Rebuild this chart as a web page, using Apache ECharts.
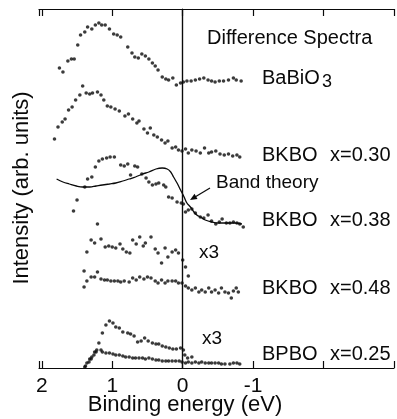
<!DOCTYPE html>
<html><head><meta charset="utf-8">
<script src="https://cdn.jsdelivr.net/npm/echarts@6/dist/echarts.min.js"></script>
<style>html,body{margin:0;padding:0;background:#fff}#c{width:397px;height:419px}</style>
</head><body><div id="c"></div>
<script>
// Binding energy (eV) and intensity (arb. units, offset curves)
const babioE = [1.75,1.70,1.63,1.58,1.54,1.49,1.45,1.39,1.35,1.29,1.24,1.19,1.15,1.10,1.04,0.98,0.93,0.88,0.78,0.72,0.68,0.63,0.58,0.53,0.48,0.43,0.39,0.35,0.29,0.24,0.20,0.14,0.09,0.03,-0.01,-0.06,-0.12,-0.18,-0.24,-0.30,-0.36,-0.41,-0.46,-0.52,-0.58,-0.65,-0.72,-0.76,-0.83];
const babioI = [300,296,307,309,309,323,333,336,341,339,343,345,343,343,339,334,333,331,321,315,311,310,314,312,309,305,302,298,291,289,288,290,283,285,286,287,287,288,289,290,288,287,286,287,287,288,290,288,287];

const bkbo30E = [1.82,1.77,1.71,1.67,1.62,1.57,1.52,1.46,1.42,1.37,1.32,1.28,1.21,1.16,1.12,1.07,1.02,0.96,0.90,0.82,0.77,0.71,0.65,0.62,0.55,0.50,0.46,0.41,0.36,0.30,0.25,0.21,0.15,0.10,0.06,0.01,-0.04,-0.08,-0.13,-0.19,-0.25,-0.31,-0.37,-0.41,-0.47,-0.53,-0.59,-0.65,-0.71,-0.77,-0.81];
const bkbo30I = [229,241,246,249,258,261,268,273,282,275,274,275,276,273,268,262,261,259,257,252,254,249,245,247,239,235,240,233,231,228,225,227,220,221,218,217,219,215,218,217,215,220,215,216,217,214,213,214,212,213,211];

const bkbo38E = [1.55,1.50,1.39,1.35,1.29,1.24,1.19,1.14,1.08,1.03,0.97,0.88,0.83,0.78,0.74,0.68,0.64,0.58,0.52,0.48,0.43,0.38,0.34,0.27,0.24,0.20,0.15,0.08,0.02,-0.01,-0.04,-0.08,-0.13,-0.18,-0.25,-0.30,-0.36,-0.41,-0.47,-0.52,-0.56,-0.62,-0.67,-0.72,-0.77,-0.81,-0.86];
const bkbo38I = [157,168,181,189,191,201,207,209,210,211,211,203,202,204,193,202,201,194,190,186,183,184,185,183,181,171,170,166,165,164,156,158,159,155,151,150,153,147,144,146,149,145,145,146,145,144,141];

const bandE = [1.79,1.70,1.61,1.51,1.42,1.32,1.23,1.14,1.04,0.95,0.85,0.76,0.67,0.57,0.48,0.38,0.29,0.22,0.17,0.13,0.08,0.03,-0.02,-0.06,-0.11,-0.16,-0.20,-0.25,-0.32,-0.41,-0.51,-0.60,-0.74,-0.84];
const bandI = [189,186,184,182,181,181,182,183,184,185,187,189,191,194,196,199,200,199,196,191,185,178,171,165,161,156,153,151,148,146,145,145,145,144];

const bkbo48x3E = [1.36,1.30,1.25,1.21,1.16,1.10,1.05,1.00,0.95,0.89,0.85,0.80,0.75,0.71,0.66,0.61,0.56,0.53,0.45,0.39,0.35,0.30,0.25,0.21,0.15,0.10,0.06,0.00,-0.04,-0.08];
const bkbo48x3I = [116,128,125,144,129,121,122,121,120,124,119,116,115,128,124,131,122,125,131,119,115,105,120,111,116,118,115,108,101,92];

const bkbo48E = [1.40,1.40,1.36,1.30,1.25,1.21,1.16,1.11,1.07,1.02,0.97,0.92,0.88,0.83,0.76,0.71,0.66,0.61,0.55,0.50,0.45,0.39,0.35,0.30,0.25,0.21,0.15,0.10,0.06,0.01,-0.04,-0.08,-0.13,-0.18,-0.23,-0.27,-0.32,-0.37,-0.41,-0.46,-0.51,-0.55,-0.60,-0.65,-0.69,-0.72,-0.76,-0.79];
const bkbo48I = [97,81,87,91,91,96,89,88,88,87,87,87,86,87,86,90,88,91,89,91,90,87,85,88,85,87,87,87,85,85,82,80,78,80,76,78,76,80,76,78,75,80,76,75,70,77,80,76];

const bpbox3E = [1.19,1.14,1.09,1.04,0.99,0.95,0.90,0.85,0.78,0.74,0.69,0.64,0.59,0.54,0.49,0.43,0.38,0.34,0.29,0.24,0.19,0.14,0.09,0.03,-0.01,-0.03,-0.07,-0.13];
const bpbox3I = [25,35,43,47,45,41,40,36,35,34,32,26,27,30,27,25,24,24,22,21,20,19,19,20,18,13,10,11];

const bpboE = [1.39,1.38,1.36,1.33,1.32,1.30,1.29,1.26,1.25,1.23,1.22,1.16,1.14,1.09,1.04,0.99,0.95,0.90,0.85,0.81,0.76,0.71,0.67,0.62,0.57,0.53,0.48,0.43,0.38,0.34,0.29,0.24,0.20,0.15,0.10,0.05,0.01,-0.04,-0.08,-0.13,-0.18,-0.23,-0.27,-0.32,-0.37,-0.41,-0.46,-0.51,-0.55,-0.60,-0.67,-0.72,-0.77,-0.81];
const bpboI = [1,2,5,6,9,9,11,13,16,16,18,18,16,15,15,14,13,13,12,11,11,10,10,10,10,9,10,9,8,8,7,7,7,7,7,7,6,5,6,5,6,5,6,5,5,5,5,5,4,4,4,5,5,4];

const xTickLabels = [2, 1, 0, -1];

const zip = (a, b) => a.map((v, i) => [v, b[i]]);
const FONT = "'Liberation Sans', Arial, sans-serif";
const INK = '#0a0a0a';

const chart = echarts.init(document.getElementById('c'), null, {renderer: 'canvas'});
const dots = (name, E, I) => ({
  name, type: 'scatter', data: zip(E, I), symbol: 'circle', symbolSize: 3.6,
  itemStyle: {color: INK}, silent: true
});

function txt(text, x, y, size, extra) {
  return Object.assign({
    type: 'text', x, y, silent: true,
    style: {text, font: size + 'px ' + FONT, fill: INK, align: 'left', verticalAlign: 'middle'}
  }, extra || {});
}

chart.setOption({
  animation: false,
  backgroundColor: '#fff',
  grid: {left: 39, right: 0, top: 9, bottom: 51, containLabel: false},
  xAxis: [{
    type: 'value', inverse: true, min: -3, max: 2.04, interval: 1, position: 'bottom',
    axisLine: {show: true, lineStyle: {color: INK, width: 1.2}},
    axisTick: {show: true, inside: true, length: 7, lineStyle: {color: INK, width: 1.2}},
    axisLabel: {
      show: true, margin: 8, fontSize: 21, color: INK, fontFamily: FONT,
      formatter: v => (xTickLabels.indexOf(v) >= 0 ? String(v) : '')
    },
    splitLine: {show: false}
  }, {
    type: 'value', inverse: true, min: -3, max: 2.04, interval: 1, position: 'top',
    axisLine: {show: true, lineStyle: {color: INK, width: 1.2}},
    axisTick: {show: true, inside: true, length: 7, lineStyle: {color: INK, width: 1.2}},
    axisLabel: {show: false}, splitLine: {show: false}
  }],
  yAxis: {
    type: 'value', min: 0, max: 359,
    axisLine: {show: true, lineStyle: {color: INK, width: 1.2}},
    axisTick: {show: false}, axisLabel: {show: false}, splitLine: {show: false}
  },
  series: [
    dots('BaBiO3', babioE, babioI),
    dots('BKBO x=0.30', bkbo30E, bkbo30I),
    dots('BKBO x=0.38', bkbo38E, bkbo38I),
    dots('BKBO x=0.48 x3', bkbo48x3E, bkbo48x3I),
    dots('BKBO x=0.48', bkbo48E, bkbo48I),
    dots('BPBO x=0.25 x3', bpbox3E, bpbox3I),
    dots('BPBO x=0.25', bpboE, bpboI),
    {
      name: 'Band theory', type: 'line', data: zip(bandE, bandI), smooth: 0.4,
      symbol: 'none', lineStyle: {color: INK, width: 1.3}, silent: true,
      markLine: {
        silent: true, symbol: 'none', label: {show: false},
        lineStyle: {color: INK, width: 1.2, type: 'solid'},
        data: [{xAxis: 0}]
      }
    }
  ],
  graphic: [
    txt('Difference Spectra', 207, 38, 20),
    txt('BaBiO', 262, 78, 20),
    txt('3', 322, 82, 18),
    txt('BKBO', 262, 155, 20), txt('x=0.30', 330, 155, 20),
    txt('Band theory', 216, 183, 19),
    txt('BKBO', 262, 220, 20), txt('x=0.38', 330, 220, 20),
    txt('x3', 199, 253, 19),
    txt('BKBO', 262, 288, 20), txt('x=0.48', 330, 288, 20),
    txt('x3', 202, 339, 19),
    txt('BPBO', 262, 354, 20), txt('x=0.25', 330, 354, 20),
    txt('Binding energy (eV)', 185, 405, 22, {style: {text: 'Binding energy (eV)', font: '22px ' + FONT, fill: INK, align: 'center', verticalAlign: 'middle'}}),
    txt('Intensity (arb. units)', 22, 188, 22, {rotation: Math.PI / 2, style: {text: 'Intensity (arb. units)', font: '22px ' + FONT, fill: INK, align: 'center', verticalAlign: 'middle'}}),
    {type: 'line', silent: true, shape: {x1: 210, y1: 188, x2: 195, y2: 197}, style: {stroke: INK, lineWidth: 1.2}},
    {type: 'polygon', silent: true, shape: {points: [[190, 200], [197.5, 199], [194.5, 193.8]]}, style: {fill: INK}}
  ]
});
</script>
</body></html>
